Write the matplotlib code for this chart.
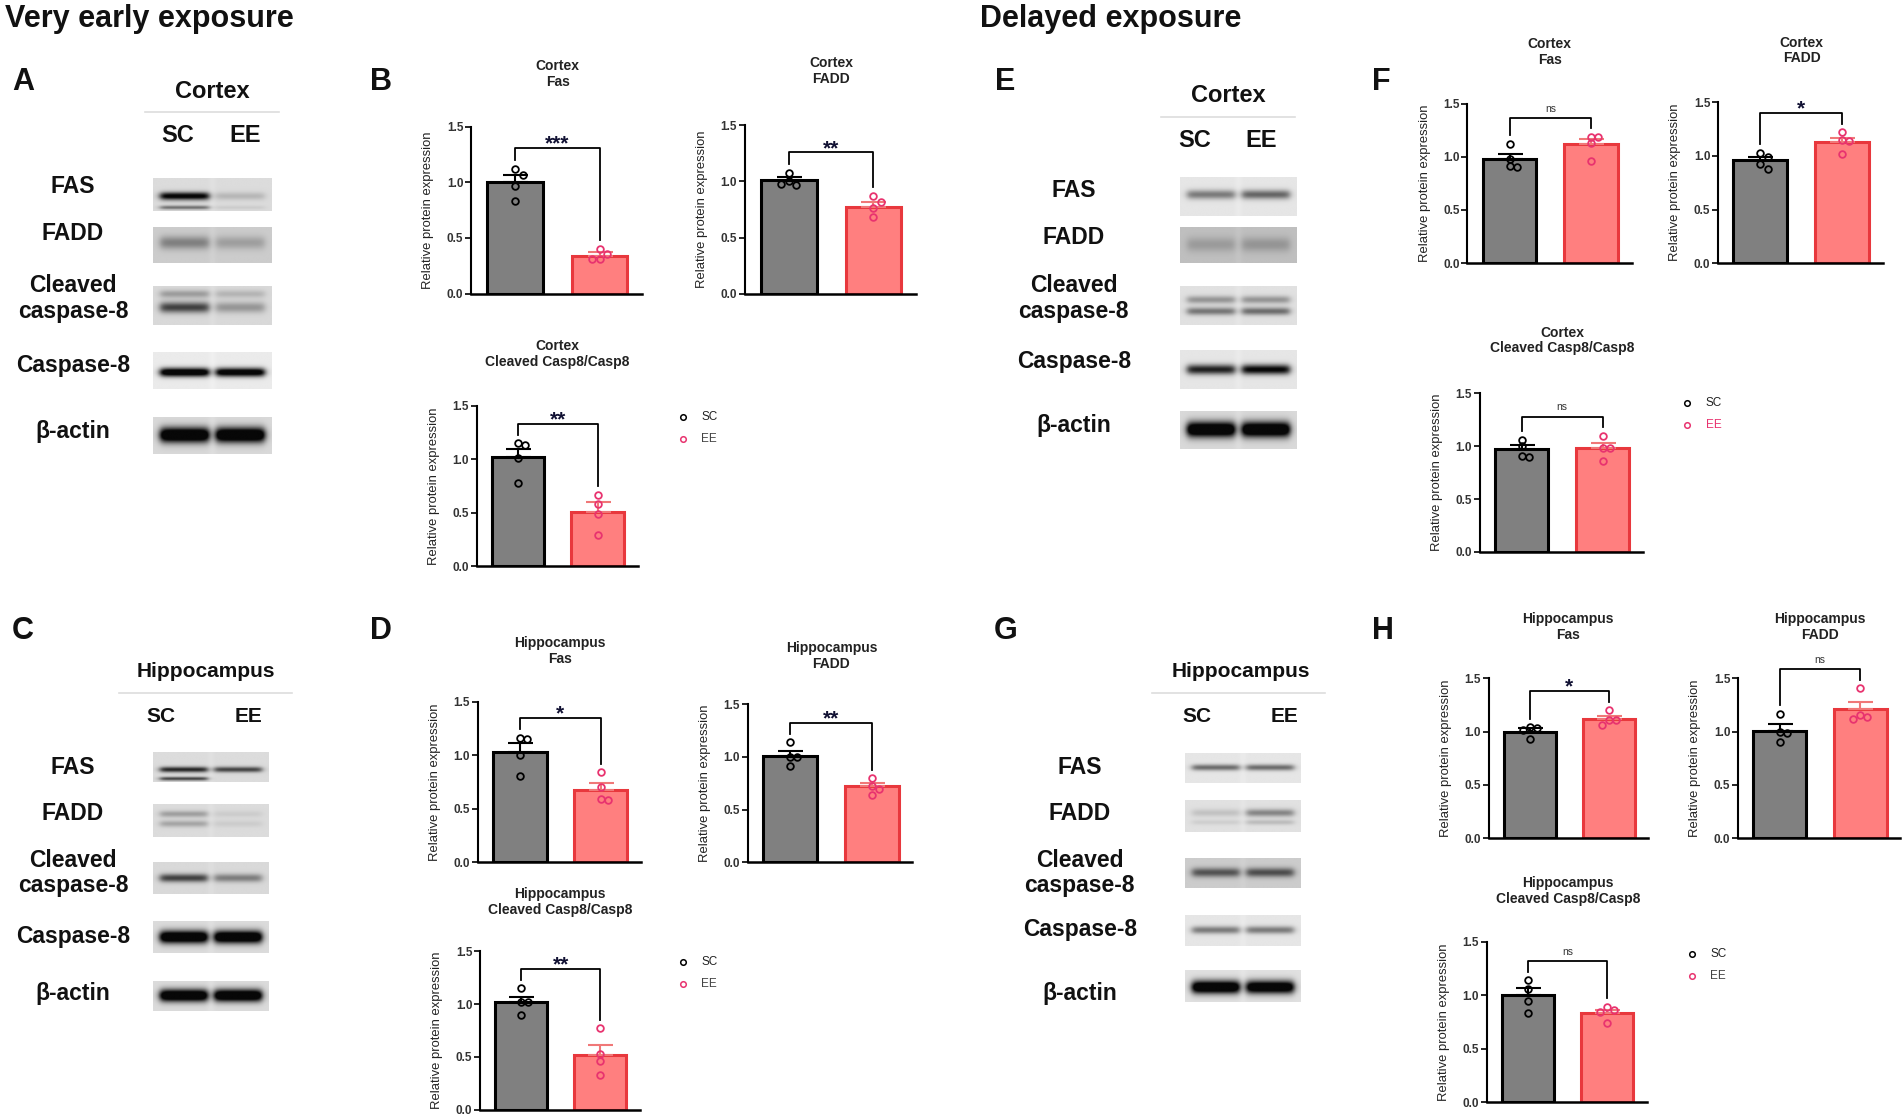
import numpy as np
import matplotlib
matplotlib.use("Agg")
import matplotlib.pyplot as plt
from matplotlib.lines import Line2D

plt.rcParams['font.family'] = ['Liberation Sans', 'DejaVu Sans']

# ---------------- data ----------------
groups = ["SC", "EE"]
protein_labels = ["FAS", "FADD", "Cleaved\ncaspase-8", "Caspase-8", "β-actin"]
ticks = [0.0, 0.5, 1.0, 1.5]
tick_labels = ["0.0", "0.5", "1.0", "1.5"]

# Very early exposure - Cortex (B)
B_fas_sc = [1.12, 1.07, 0.97, 0.83];  B_fas_ee = [0.40, 0.36, 0.31, 0.31]
B_fas_mean = [1.00, 0.34];           B_fas_sem = [0.07, 0.03]
B_fadd_sc = [1.08, 1.00, 0.97, 0.98]; B_fadd_ee = [0.87, 0.82, 0.76, 0.68]
B_fadd_mean = [1.01, 0.77];          B_fadd_sem = [0.03, 0.05]
B_cl_sc = [1.15, 1.13, 1.01, 0.78];   B_cl_ee = [0.67, 0.58, 0.49, 0.29]
B_cl_mean = [1.02, 0.51];            B_cl_sem = [0.08, 0.09]
# Very early exposure - Hippocampus (D)
D_fas_sc = [1.16, 1.15, 1.00, 0.81];  D_fas_ee = [0.84, 0.70, 0.59, 0.58]
D_fas_mean = [1.03, 0.68];           D_fas_sem = [0.08, 0.06]
D_fadd_sc = [1.14, 1.00, 1.00, 0.91]; D_fadd_ee = [0.80, 0.72, 0.70, 0.64]
D_fadd_mean = [1.01, 0.72];          D_fadd_sem = [0.05, 0.03]
D_cl_sc = [1.15, 1.02, 1.02, 0.90];   D_cl_ee = [0.77, 0.53, 0.46, 0.33]
D_cl_mean = [1.02, 0.52];            D_cl_sem = [0.05, 0.09]
# Delayed exposure - Cortex (F)
F_fas_sc = [1.12, 0.98, 0.91, 0.90]; F_fas_ee = [1.19, 1.19, 1.13, 0.96]
F_fas_mean = [0.98, 1.12];          F_fas_sem = [0.05, 0.05]
F_fadd_sc = [1.03, 0.99, 0.92, 0.88]; F_fadd_ee = [1.22, 1.15, 1.14, 1.02]
F_fadd_mean = [0.96, 1.13];          F_fadd_sem = [0.03, 0.04]
F_cl_sc = [1.06, 1.00, 0.91, 0.90];  F_cl_ee = [1.10, 0.98, 0.98, 0.86]
F_cl_mean = [0.97, 0.98];           F_cl_sem = [0.04, 0.05]
# Delayed exposure - Hippocampus (H)
H_fas_sc = [1.04, 1.03, 1.02, 0.93]; H_fas_ee = [1.20, 1.11, 1.11, 1.06]
H_fas_mean = [1.00, 1.12];          H_fas_sem = [0.03, 0.03]
H_fadd_sc = [1.17, 1.00, 0.99, 0.90]; H_fadd_ee = [1.41, 1.16, 1.14, 1.12]
H_fadd_mean = [1.01, 1.21];          H_fadd_sem = [0.06, 0.07]
H_cl_sc = [1.14, 1.06, 0.95, 0.83];  H_cl_ee = [0.89, 0.86, 0.84, 0.74]
H_cl_mean = [1.00, 0.83];           H_cl_sem = [0.07, 0.03]

sig_labels = {"B_fas": "***", "B_fadd": "**", "B_cl": "**",
              "D_fas": "*", "D_fadd": "**", "D_cl": "**",
              "F_fas": "ns", "F_fadd": "*", "F_cl": "ns",
              "H_fas": "*", "H_fadd": "ns", "H_cl": "ns"}
sig_heights = {"B_fas": 1.31, "B_fadd": 1.26, "B_cl": 1.33,
               "D_fas": 1.35, "D_fadd": 1.32, "D_cl": 1.33,
               "F_fas": 1.36, "F_fadd": 1.40, "F_cl": 1.28,
               "H_fas": 1.38, "H_fadd": 1.59, "H_cl": 1.32}

# ---------------- figure ----------------
W, H = 1564.0, 917.0
fig = plt.figure(figsize=(19.04, 11.17), dpi=100)
fig.patch.set_facecolor('white')


def fx(x):
    return x / W


def fy(y):
    return 1 - y / H


SC_FACE, SC_EDGE = '#808080', '#000000'
EE_FACE, EE_EDGE = '#FF7F7F', '#E8383D'
EE_PT = '#E8336F'
EE_ERR = '#F07878'


def swarm(vals, dx=0.09, dy=0.055):
    offs = []
    placed = []
    for v in vals:
        x = 0.0
        for k in [0, 1, -1, 2, -2, 3, -3]:
            x = k * dx
            ok = all(not (abs(x - px) < dx * 0.9 and abs(v - pv) < dy) for px, pv in placed)
            if ok:
                break
        placed.append((x, v))
        offs.append(x)
    return offs


def bar_panel(c_sc, c_ee, y15, y0, title, title_xy, sc_pts, ee_pts, means, sems, key):
    u = c_ee - c_sc
    left = c_sc - 0.52 * u
    right = c_sc + 1.5 * u
    ax = fig.add_axes([fx(left), fy(y0), (right - left) / W, (y0 - y15) / H])
    ax.set_xlim(-0.52, 1.5)
    ax.set_ylim(0, 1.5)
    ax.bar([0, 1], means, width=0.66, color=[SC_FACE, EE_FACE],
           edgecolor=[SC_EDGE, EE_EDGE], linewidth=2.2, zorder=2)
    ax.errorbar([0], [means[0]], yerr=[[0], [sems[0]]], fmt='none', ecolor='black',
                elinewidth=1.5, capsize=9, capthick=1.5, zorder=3)
    ax.errorbar([1], [means[1]], yerr=[[0], [sems[1]]], fmt='none', ecolor=EE_ERR,
                elinewidth=1.5, capsize=9, capthick=1.5, zorder=3)
    for i, (pts, col) in enumerate([(sc_pts, 'black'), (ee_pts, EE_PT)]):
        offs = swarm(pts)
        ax.plot([i + o for o in offs], pts, 'o', mfc='none', mec=col, ms=4.8,
                mew=1.3, zorder=4, clip_on=False)
    # significance bracket
    sy = sig_heights[key]
    l0 = max(max(sc_pts), means[0] + sems[0]) + 0.08
    l1 = max(max(ee_pts), means[1] + sems[1]) + 0.08
    ax.plot([0, 0, 1, 1], [l0, sy, sy, l1], color='black', lw=1.3, clip_on=False, zorder=5)
    lab = sig_labels[key]
    if lab == 'ns':
        ax.text(0.5, sy + 0.04, lab, ha='center', va='bottom', fontsize=7.5, color='#333333')
    else:
        ax.text(0.5, sy - 0.05, lab, ha='center', va='bottom', fontsize=15,
                fontweight='bold', color='#111133')
    for s in ['top', 'right']:
        ax.spines[s].set_visible(False)
    ax.spines['left'].set_linewidth(1.5)
    ax.spines['bottom'].set_linewidth(1.8)
    ax.set_xticks([])
    ax.set_yticks(ticks)
    ax.set_yticklabels(tick_labels, fontsize=8.5, fontweight='bold', color='#333333')
    ax.tick_params(axis='y', length=4, width=1.2, pad=1.5)
    ax.set_ylabel('Relative protein expression', fontsize=9.4, color='#222222', labelpad=9)
    ax.patch.set_alpha(0)
    fig.text(fx(title_xy[0]), fy(title_xy[1]), title, ha='center', va='center',
             fontsize=10, fontweight='bold', color='#222222', linespacing=1.15)
    return ax


# ---- bar charts ----
bar_panel(423, 492.5, 104, 241, "Cortex\nFas", (458, 60.5), B_fas_sc, B_fas_ee, B_fas_mean, B_fas_sem, "B_fas")
bar_panel(648, 717.5, 103, 241, "Cortex\nFADD", (683, 58.5), B_fadd_sc, B_fadd_ee, B_fadd_mean, B_fadd_sem, "B_fadd")
bar_panel(425.5, 491, 333, 465, "Cortex\nCleaved Casp8/Casp8", (458, 290.5), B_cl_sc, B_cl_ee, B_cl_mean, B_cl_sem, "B_cl")
bar_panel(427, 493.5, 576, 708, "Hippocampus\nFas", (460, 534.5), D_fas_sc, D_fas_ee, D_fas_mean, D_fas_sem, "D_fas")
bar_panel(649, 716, 578, 708, "Hippocampus\nFADD", (683, 538.5), D_fadd_sc, D_fadd_ee, D_fadd_mean, D_fadd_sem, "D_fadd")
bar_panel(428, 493, 781, 911, "Hippocampus\nCleaved Casp8/Casp8", (460, 740.5), D_cl_sc, D_cl_ee, D_cl_mean, D_cl_sem, "D_cl")
bar_panel(1240, 1307, 85, 216, "Cortex\nFas", (1273, 42.5), F_fas_sc, F_fas_ee, F_fas_mean, F_fas_sem, "F_fas")
bar_panel(1446, 1513, 84, 216, "Cortex\nFADD", (1480, 41.5), F_fadd_sc, F_fadd_ee, F_fadd_mean, F_fadd_sem, "F_fadd")
bar_panel(1250, 1316.5, 323, 453, "Cortex\nCleaved Casp8/Casp8", (1283, 279.5), F_cl_sc, F_cl_ee, F_cl_mean, F_cl_sem, "F_cl")
bar_panel(1256.5, 1321.5, 557, 688, "Hippocampus\nFas", (1288, 515), H_fas_sc, H_fas_ee, H_fas_mean, H_fas_sem, "H_fas")
bar_panel(1462, 1528, 557, 688, "Hippocampus\nFADD", (1495, 515), H_fadd_sc, H_fadd_ee, H_fadd_mean, H_fadd_sem, "H_fadd")
bar_panel(1255, 1320, 773, 905, "Hippocampus\nCleaved Casp8/Casp8", (1288, 731.5), H_cl_sc, H_cl_ee, H_cl_mean, H_cl_sem, "H_cl")


# ---- legends ----
def legend(x, y1, y2, ee_text_col):
    fig.add_artist(Line2D([fx(x)], [fy(y1)], marker='o', mfc='none', mec='black', ms=4,
                          mew=1.1, transform=fig.transFigure))
    fig.add_artist(Line2D([fx(x)], [fy(y2)], marker='o', mfc='none', mec=EE_PT, ms=4,
                          mew=1.1, transform=fig.transFigure))
    fig.text(fx(x + 15), fy(y1), groups[0], va='center', fontsize=8.5, color='#222222')
    fig.text(fx(x + 15), fy(y2), groups[1], va='center', fontsize=8.5, color=ee_text_col)


legend(561, 342, 360, '#444444')
legend(561, 790, 808, '#444444')
legend(1386, 331, 349, EE_PT)
legend(1390, 783, 801, '#444444')


# ---- western blots ----
def blot(x0, x1, y0, y1, bg, bands):
    ax = fig.add_axes([fx(x0), fy(y1), (x1 - x0) / W, (y1 - y0) / H])
    ny, nx = 60, 200
    yy, xx = np.mgrid[0:1:ny * 1j, 0:1:nx * 1j]

    def lane(a, b):
        return 1 / (1 + np.exp(-(xx - a) * 60)) * 1 / (1 + np.exp((xx - b) * 60))

    img = np.full((ny, nx), bg)
    img = img + 0.02 * np.exp(-((xx - 0.5) / 0.03) ** 2)
    for yc, sig, d_sc, d_ee in bands:
        prof = np.exp(-((yy - yc) / sig) ** 2)
        dark = d_sc * lane(0.06, 0.47) + d_ee * lane(0.53, 0.94)
        img = img - 1.2 * dark * prof
    img = np.clip(img, 0.03, 1)
    ax.imshow(img, cmap='gray', vmin=0, vmax=1, aspect='auto', interpolation='bilinear')
    ax.axis('off')


def blot_panel(header, header_xy, hdr_size, grp_size, line_x, line_y, sc_x, ee_x, grp_y, lab_x,
               lab_ys, bx0, bx1, rows, specs):
    fig.text(fx(header_xy[0]), fy(header_xy[1]), header, ha='center', va='center',
             fontsize=hdr_size, fontweight='bold', color='#111111')
    fig.add_artist(Line2D([fx(line_x[0]), fx(line_x[1])], [fy(line_y)] * 2, color='#dddddd',
                          lw=1.2, transform=fig.transFigure))
    fig.text(fx(sc_x), fy(grp_y), groups[0], ha='center', va='center', fontsize=grp_size,
             fontweight='bold', color='#111111')
    fig.text(fx(ee_x), fy(grp_y), groups[1], ha='center', va='center', fontsize=grp_size,
             fontweight='bold', color='#111111')
    for lab, ly in zip(protein_labels, lab_ys):
        fig.text(fx(lab_x), fy(ly), lab, ha='center', va='center', fontsize=16.5,
                 fontweight='bold', color='#111111', linespacing=1.12)
    for (r0, r1), (bg, bands) in zip(rows, specs):
        blot(bx0, bx1, r0, r1, bg, bands)


A_specs = [(0.86, [(0.55, 0.12, 0.75, 0.12), (0.9, 0.06, 0.35, 0.05)]),
           (0.80, [(0.45, 0.18, 0.25, 0.15)]),
           (0.85, [(0.2, 0.1, 0.2, 0.12), (0.55, 0.14, 0.5, 0.22)]),
           (0.92, [(0.55, 0.12, 0.95, 0.9)]),
           (0.85, [(0.5, 0.2, 1.0, 1.0)])]
C_specs = [(0.86, [(0.6, 0.09, 0.6, 0.5), (0.9, 0.06, 0.5, 0.0)]),
           (0.86, [(0.3, 0.1, 0.2, 0.05), (0.6, 0.1, 0.18, 0.05)]),
           (0.85, [(0.5, 0.13, 0.5, 0.3)]),
           (0.86, [(0.5, 0.2, 1.0, 1.0)]),
           (0.86, [(0.5, 0.2, 1.0, 1.0)])]
E_specs = [(0.90, [(0.45, 0.12, 0.35, 0.42)]),
           (0.75, [(0.5, 0.2, 0.12, 0.14)]),
           (0.88, [(0.35, 0.1, 0.25, 0.25), (0.65, 0.1, 0.35, 0.38)]),
           (0.90, [(0.5, 0.13, 0.65, 0.75)]),
           (0.85, [(0.5, 0.2, 1.0, 1.0)])]
G_specs = [(0.90, [(0.5, 0.1, 0.4, 0.4)]),
           (0.88, [(0.4, 0.12, 0.1, 0.3), (0.7, 0.08, 0.06, 0.12)]),
           (0.80, [(0.5, 0.15, 0.4, 0.42)]),
           (0.90, [(0.5, 0.12, 0.35, 0.35)]),
           (0.88, [(0.55, 0.2, 1.0, 0.95)])]

blot_panel("Cortex", (174, 75), 17, 17, (119, 229), 92, 146, 201, 111, 60,
           [153, 192, 245, 300, 354], 126, 223,
           [(146, 173), (186, 216), (235, 267), (289, 319), (342, 373)], A_specs)
blot_panel("Hippocampus", (169, 551), 15, 15, (98, 240), 569, 132, 204, 588, 60,
           [630, 668, 717, 769, 816], 126, 221,
           [(617, 642), (660, 687), (708, 734), (756, 782), (805, 830)], C_specs)
blot_panel("Cortex", (1009, 78), 17, 17, (954, 1064), 96, 981, 1036, 115, 882,
           [156, 195, 245, 297, 349], 969, 1065,
           [(145, 177), (186, 216), (235, 267), (287, 319), (337, 369)], E_specs)
blot_panel("Hippocampus", (1019, 551), 15, 15, (946, 1088), 569, 983, 1055, 588, 887,
           [630, 668, 717, 763, 816], 973, 1068,
           [(618, 643), (657, 683), (704, 729), (751, 777), (796, 823)], G_specs)

# ---- headers and panel letters ----
fig.text(fx(4), fy(16), "Very early exposure", ha='left', va='center', fontsize=22,
         fontweight='bold', color='#111111')
fig.text(fx(805), fy(16), "Delayed exposure", ha='left', va='center', fontsize=22,
         fontweight='bold', color='#111111')
for letter, (lx, ly) in {"A": (19, 67), "B": (313, 67), "C": (19, 518), "D": (313, 518),
                         "E": (826, 67), "F": (1135, 67), "G": (826, 518), "H": (1136, 518)}.items():
    fig.text(fx(lx), fy(ly), letter, ha='center', va='center', fontsize=22,
             fontweight='bold', color='#111111')

fig.savefig("out.png", dpi=100, facecolor='white')
